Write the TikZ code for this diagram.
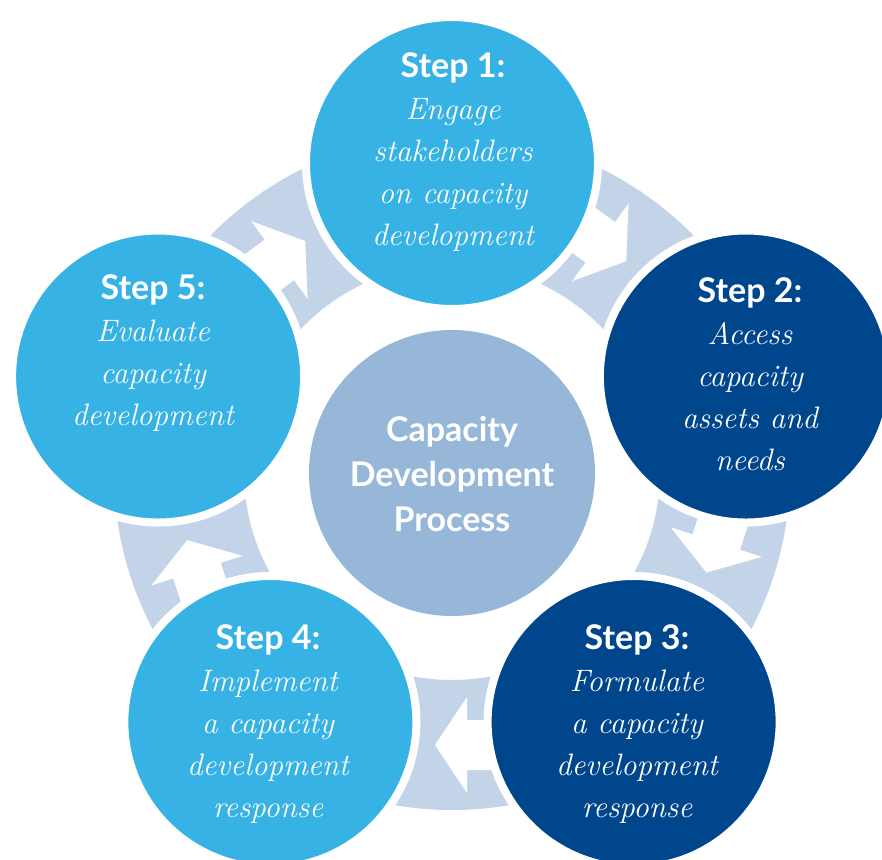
\documentclass[tikz,border=0pt]{standalone}
\usepackage{fontspec}
\usepackage{tikz}
\newfontfamily\headfont{Lato}
\definecolor{lightblue}{RGB}{54,178,228}
\definecolor{darkblue}{RGB}{0,70,140}
\definecolor{ringblue}{RGB}{196,212,232}
\definecolor{coreblue}{RGB}{151,183,216}

\tikzset{
  stepcirc/.style={circle, minimum size=292pt, draw=white, line width=8pt},
  steptext/.style={text=white, align=center, font=\fontsize{31}{42}\selectfont\itshape},
  corecirc/.style={circle, minimum size=286pt, fill=coreblue},
  coretext/.style={text=white, align=center, font=\headfont\bfseries\fontsize{34}{45}\selectfont}
}
\newcommand{\steplabel}[1]{{\headfont\bfseries\upshape\fontsize{34}{42}\selectfont #1}}

\begin{document}
\begin{tikzpicture}[x=1pt,y=1pt]
	\useasboundingbox (-452,-387) rectangle (430,472);

	% ring behind the circles
	\fill[ringblue, even odd rule] (0,0) circle (338) (0,0) circle (208);

	% white block arrows in the gaps
	\foreach \rot in {144,72,0,-72,216} {
		\begin{scope}[rotate=\rot]
			\fill[white] (-17,-273) -- (15,-225) -- (15,-248) -- (70,-248)
				-- (70,-298) -- (15,-298) -- (15,-321) -- cycle;
		\end{scope}
	}

	% steps
	\node[stepcirc, fill=lightblue] (s1) at (90:309) {};
	\node[stepcirc, fill=darkblue] (s2) at (18:309) {};
	\node[stepcirc, fill=darkblue] (s3) at (-54:309) {};
	\node[stepcirc, fill=lightblue] (s4) at (-126:309) {};
	\node[stepcirc, fill=lightblue] (s5) at (162:309) {};

	\node[corecirc] (core) at (0,-1) {};

	\node[steptext] (t1) at (1,320) {\steplabel{Step 1:}\\Engage\\stakeholders\\on capacity\\development};
	\node[steptext] (t2) at (298,98) {\steplabel{Step 2:}\\Access\\capacity\\assets and\\needs};
	\node[steptext] (t3) at (185,-252) {\steplabel{Step 3:}\\Formulate\\a capacity\\development\\response};
	\node[steptext] (t4) at (-184,-252) {\steplabel{Step 4:}\\Implement\\a capacity\\development\\response};
	\node[steptext] (t5) at (-299,119) {\steplabel{Step 5:}\\Evaluate\\capacity\\development};
	\node[coretext] (tc) at (0,-2) {Capacity\\Development\\Process};
\end{tikzpicture}
\end{document}
